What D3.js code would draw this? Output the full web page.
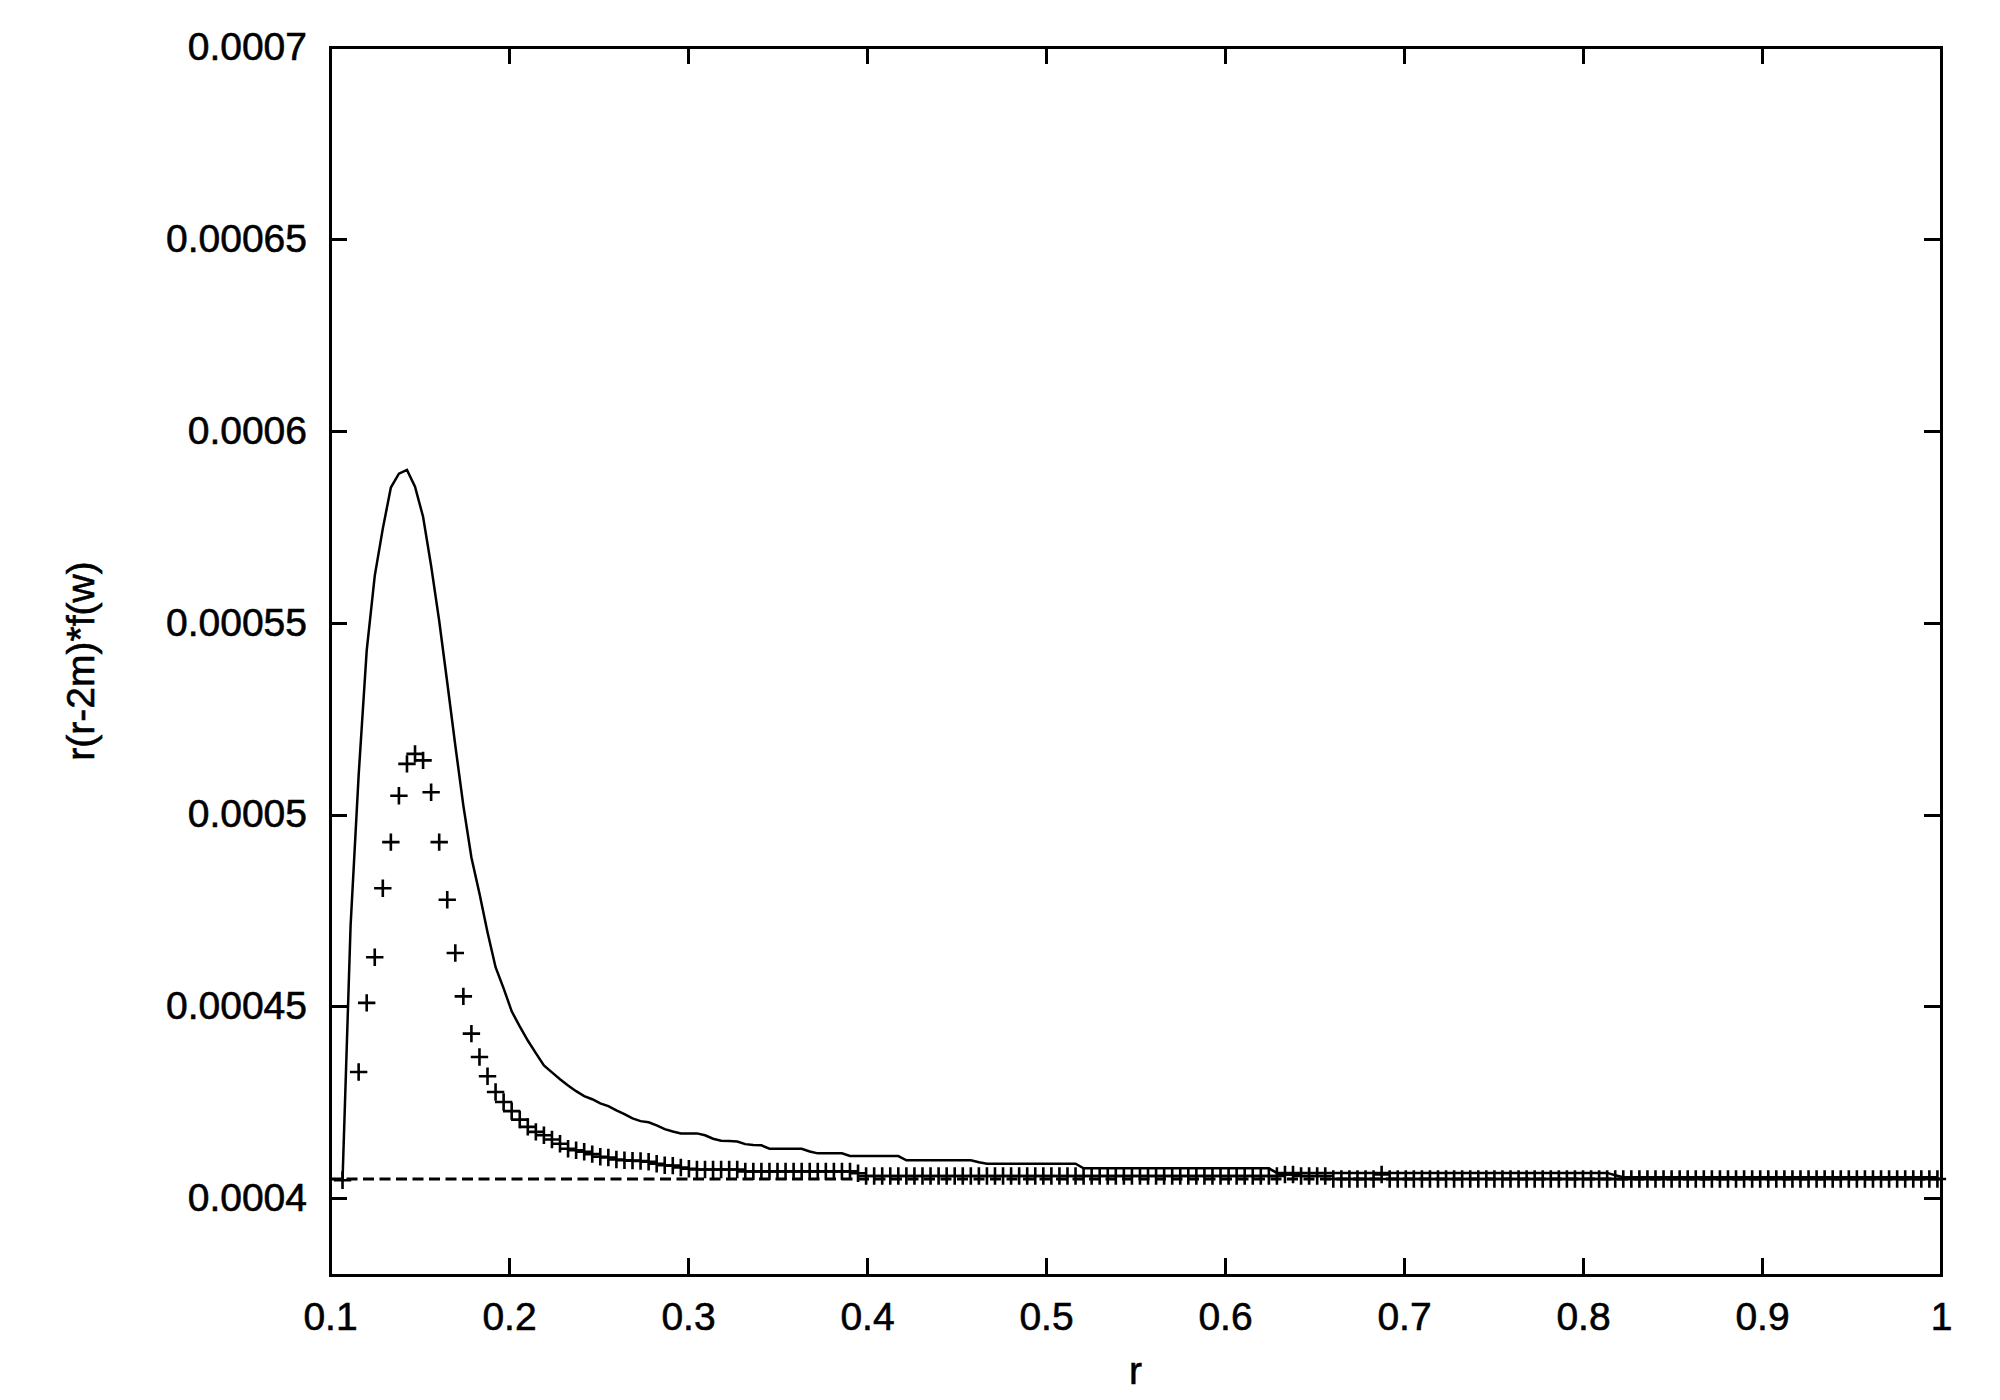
<!DOCTYPE html>
<html>
<head>
<meta charset="utf-8">
<script src="https://cdn.jsdelivr.net/npm/d3@7/dist/d3.min.js"></script>
<style>
  body { margin: 0; background: #fff; }
  svg { display: block; background: #fff; }
  .axis text {
    font-family: "Liberation Sans", Arial, Helvetica, sans-serif;
    font-size: 39px;
    fill: #000;
    stroke: #000;
    stroke-width: 0.6px;
  }
  .axis line { stroke: #000; stroke-width: 3px; shape-rendering: crispEdges; }
  .axis path.domain { display: none; }
  .label {
    font-family: "Liberation Sans", Arial, Helvetica, sans-serif;
    font-size: 39px;
    fill: #000;
    stroke: #000;
    stroke-width: 0.6px;
  }
</style>
</head>
<body>
<svg id="chart"></svg>
<script>
// sampled radii: the data points sit on a regular r grid
var rStart = 0.107,
    rStep = 0.0045;

// solid curve: r(r-2m)*f(w)
var lineW = [
  0.0004047, 0.000471, 0.0005102, 0.0005427, 0.0005622, 0.0005745, 0.0005852, 0.0005888, 0.0005898, 0.0005854,
  0.0005776, 0.0005648, 0.0005505, 0.0005344, 0.000518, 0.0005023, 0.0004888, 0.0004794, 0.0004693, 0.0004602,
  0.0004547, 0.0004487, 0.0004448, 0.0004411, 0.0004378, 0.0004346, 0.0004328, 0.000431, 0.0004294, 0.0004279,
  0.0004266, 0.0004258, 0.0004247, 0.000424, 0.0004229, 0.0004219, 0.0004208, 0.0004201, 0.0004198, 0.000419,
  0.000418, 0.0004174, 0.0004169, 0.0004169, 0.0004169, 0.0004164, 0.0004155, 0.000415, 0.0004149, 0.0004148,
  0.0004141, 0.0004139, 0.0004138, 0.0004129, 0.0004129, 0.0004129, 0.0004129, 0.0004129, 0.0004122, 0.0004117,
  0.0004117, 0.0004117, 0.0004117, 0.000411, 0.000411, 0.000411, 0.000411, 0.000411, 0.000411, 0.000411,
  0.0004099, 0.0004099, 0.0004099, 0.0004099, 0.0004099, 0.0004099, 0.0004099, 0.0004099, 0.0004099, 0.0004094,
  0.000409, 0.000409, 0.000409, 0.000409, 0.000409, 0.000409, 0.000409, 0.000409, 0.000409, 0.000409,
  0.000409, 0.000409, 0.0004078, 0.0004078, 0.0004078, 0.0004078, 0.0004078, 0.0004078, 0.0004078, 0.0004078,
  0.0004078, 0.0004078, 0.0004078, 0.0004078, 0.0004078, 0.0004078, 0.0004078, 0.0004078, 0.0004078, 0.0004078,
  0.0004078, 0.0004078, 0.0004078, 0.0004078, 0.0004078, 0.0004078, 0.0004066, 0.0004066, 0.0004066, 0.0004066,
  0.0004066, 0.0004066, 0.0004066, 0.0004066, 0.0004066, 0.0004066, 0.0004066, 0.0004066, 0.0004066, 0.0004066,
  0.0004066, 0.0004066, 0.0004066, 0.0004066, 0.0004066, 0.0004066, 0.0004066, 0.0004066, 0.0004066, 0.0004066,
  0.0004066, 0.0004066, 0.0004066, 0.0004066, 0.0004066, 0.0004066, 0.0004066, 0.0004066, 0.0004066, 0.0004066,
  0.0004066, 0.0004066, 0.0004066, 0.0004066, 0.0004066, 0.0004066, 0.0004066, 0.0004066, 0.000406, 0.0004055,
  0.0004055, 0.0004055, 0.0004055, 0.0004055, 0.0004055, 0.0004055, 0.0004055, 0.0004055, 0.0004055, 0.0004055,
  0.0004055, 0.0004055, 0.0004055, 0.0004055, 0.0004055, 0.0004055, 0.0004055, 0.0004055, 0.0004055, 0.0004055,
  0.0004055, 0.0004055, 0.0004055, 0.0004055, 0.0004055, 0.0004055, 0.0004055, 0.0004055, 0.0004055, 0.0004055,
  0.0004055, 0.0004055, 0.0004055, 0.0004055, 0.0004055, 0.0004055, 0.0004055, 0.0004055, 0.0004055
];

// "+" points (null = no point drawn)
var crossW = [
  0.0004047, null, 0.0004329, 0.0004509, 0.0004628, 0.0004808, 0.0004928, 0.0005049, 0.0005132, 0.0005158,
  0.0005141, 0.0005058, 0.0004928, 0.0004778, 0.0004639, 0.0004526, 0.0004429, 0.0004368, 0.0004318, 0.0004277,
  0.0004251, 0.0004227, 0.0004205, 0.0004186, 0.0004173, 0.0004164, 0.0004153, 0.0004142, 0.0004129, 0.0004125,
  0.0004121, 0.0004115, 0.0004108, 0.0004106, 0.0004101, 0.0004099, 0.0004098, 0.0004097, 0.0004095, 0.000409,
  0.0004086, 0.0004085, 0.000408, 0.0004077, 0.0004075, 0.0004075, 0.0004075, 0.0004075, 0.0004075, 0.0004075,
  0.000407, 0.000407, 0.000407, 0.000407, 0.000407, 0.000407, 0.000407, 0.000407, 0.000407, 0.000407,
  0.000407, 0.000407, 0.000407, 0.000407, 0.0004065, 0.0004058, 0.0004058, 0.0004058, 0.0004058, 0.0004058,
  0.0004058, 0.0004058, 0.0004058, 0.0004058, 0.0004058, 0.0004058, 0.0004058, 0.0004058, 0.0004058, 0.0004058,
  0.0004058, 0.0004058, 0.0004058, 0.0004058, 0.0004058, 0.0004058, 0.0004058, 0.0004058, 0.0004058, 0.0004058,
  0.0004058, 0.0004058, 0.0004058, 0.0004058, 0.0004058, 0.0004058, 0.0004058, 0.0004058, 0.0004058, 0.0004058,
  0.0004058, 0.0004058, 0.0004058, 0.0004058, 0.0004058, 0.0004058, 0.0004058, 0.0004058, 0.0004058, 0.0004058,
  0.0004058, 0.0004058, 0.0004058, 0.0004058, 0.0004058, 0.0004058, 0.0004058, 0.0004062, 0.0004062, 0.0004058,
  0.0004058, 0.0004058, 0.0004058, 0.000405, 0.000405, 0.000405, 0.000405, 0.000405, 0.000405, 0.0004062,
  0.000405, 0.000405, 0.000405, 0.000405, 0.000405, 0.000405, 0.000405, 0.000405, 0.000405, 0.000405,
  0.000405, 0.000405, 0.000405, 0.000405, 0.000405, 0.000405, 0.000405, 0.000405, 0.000405, 0.000405,
  0.000405, 0.000405, 0.000405, 0.000405, 0.000405, 0.000405, 0.000405, 0.000405, 0.000405, 0.000405,
  0.000405, 0.000405, 0.000405, 0.000405, 0.000405, 0.000405, 0.000405, 0.000405, 0.000405, 0.000405,
  0.000405, 0.000405, 0.000405, 0.000405, 0.000405, 0.000405, 0.000405, 0.000405, 0.000405, 0.000405,
  0.000405, 0.000405, 0.000405, 0.000405, 0.000405, 0.000405, 0.000405, 0.000405, 0.000405, 0.000405,
  0.000405, 0.000405, 0.000405, 0.000405, 0.000405, 0.000405, 0.000405, 0.000405, 0.000405
];

// horizontal dashed reference level
var asymptoteW = 0.000405;

var xTicks = [0.1, 0.2, 0.3, 0.4, 0.5, 0.6, 0.7, 0.8, 0.9, 1];
var yTicks = [0.0004, 0.00045, 0.0005, 0.00055, 0.0006, 0.00065, 0.0007];
var xDomain = [0.1, 1],
    yDomain = [0.00038, 0.0007];

var width = 2000,
    height = 1400,
    margin = {top: 47, right: 59, bottom: 125, left: 330};

var svg = d3.select("#chart")
    .attr("width", width)
    .attr("height", height);

var x = d3.scaleLinear().domain(xDomain).range([margin.left, width - margin.right]);
var y = d3.scaleLinear().domain(yDomain).range([height - margin.bottom, margin.top]);

var tickLen = 17;
var fmt = function(d) { return String(+d.toFixed(6)); };

// axes, ticks pointing inward, mirrored on top/right
svg.append("g")
    .attr("class", "axis")
    .attr("transform", "translate(0," + (height - margin.bottom) + ")")
    .call(d3.axisBottom(x).tickValues(xTicks).tickFormat(fmt)
      .tickSizeInner(-tickLen).tickSizeOuter(0).tickPadding(27));

svg.append("g")
    .attr("class", "axis")
    .attr("transform", "translate(0," + margin.top + ")")
    .call(d3.axisTop(x).tickValues(xTicks).tickFormat("")
      .tickSizeInner(-tickLen).tickSizeOuter(0));

svg.append("g")
    .attr("class", "axis")
    .attr("transform", "translate(" + margin.left + ",0)")
    .call(d3.axisLeft(y).tickValues(yTicks).tickFormat(fmt)
      .tickSizeInner(-tickLen).tickSizeOuter(0).tickPadding(23));

svg.append("g")
    .attr("class", "axis")
    .attr("transform", "translate(" + (width - margin.right) + ",0)")
    .call(d3.axisRight(y).tickValues(yTicks).tickFormat("")
      .tickSizeInner(-tickLen).tickSizeOuter(0));

// plot frame
svg.append("rect")
    .attr("x", margin.left)
    .attr("y", margin.top)
    .attr("width", width - margin.left - margin.right)
    .attr("height", height - margin.top - margin.bottom)
    .attr("fill", "none")
    .attr("stroke", "#000")
    .attr("stroke-width", 3)
    .attr("shape-rendering", "crispEdges");

// dashed level
svg.append("line")
    .attr("x1", x(xDomain[0]))
    .attr("x2", x(xDomain[1]))
    .attr("y1", y(asymptoteW))
    .attr("y2", y(asymptoteW))
    .attr("stroke", "#000")
    .attr("stroke-width", 3)
    .attr("stroke-dasharray", "11,5.5");

// solid curve
var line = d3.line()
    .x(function(d, i) { return x(rStart + i * rStep); })
    .y(function(d) { return y(d); });

svg.append("path")
    .datum(lineW)
    .attr("fill", "none")
    .attr("stroke", "#000")
    .attr("stroke-width", 2.5)
    .attr("stroke-linejoin", "miter")
    .attr("d", line);

// crosses
var cs = 8.7;
var pts = crossW.map(function(v, i) { return {r: rStart + i * rStep, w: v}; })
    .filter(function(d) { return d.w != null; });

svg.append("g")
    .selectAll("path")
    .data(pts)
    .enter().append("path")
    .attr("transform", function(d) { return "translate(" + x(d.r) + "," + y(d.w) + ")"; })
    .attr("d", "M" + (-cs) + ",0H" + cs + "M0," + (-cs) + "V" + cs)
    .attr("stroke", "#000")
    .attr("stroke-width", 2.6)
    .attr("fill", "none");

// axis titles
svg.append("text")
    .attr("class", "label")
    .attr("x", (margin.left + width - margin.right) / 2)
    .attr("y", 1384)
    .attr("text-anchor", "middle")
    .text("r");

svg.append("text")
    .attr("class", "label")
    .attr("transform", "translate(94," + ((margin.top + height - margin.bottom) / 2) + ") rotate(-90)")
    .attr("text-anchor", "middle")
    .text("r(r-2m)*f(w)");
</script>
</body>
</html>
